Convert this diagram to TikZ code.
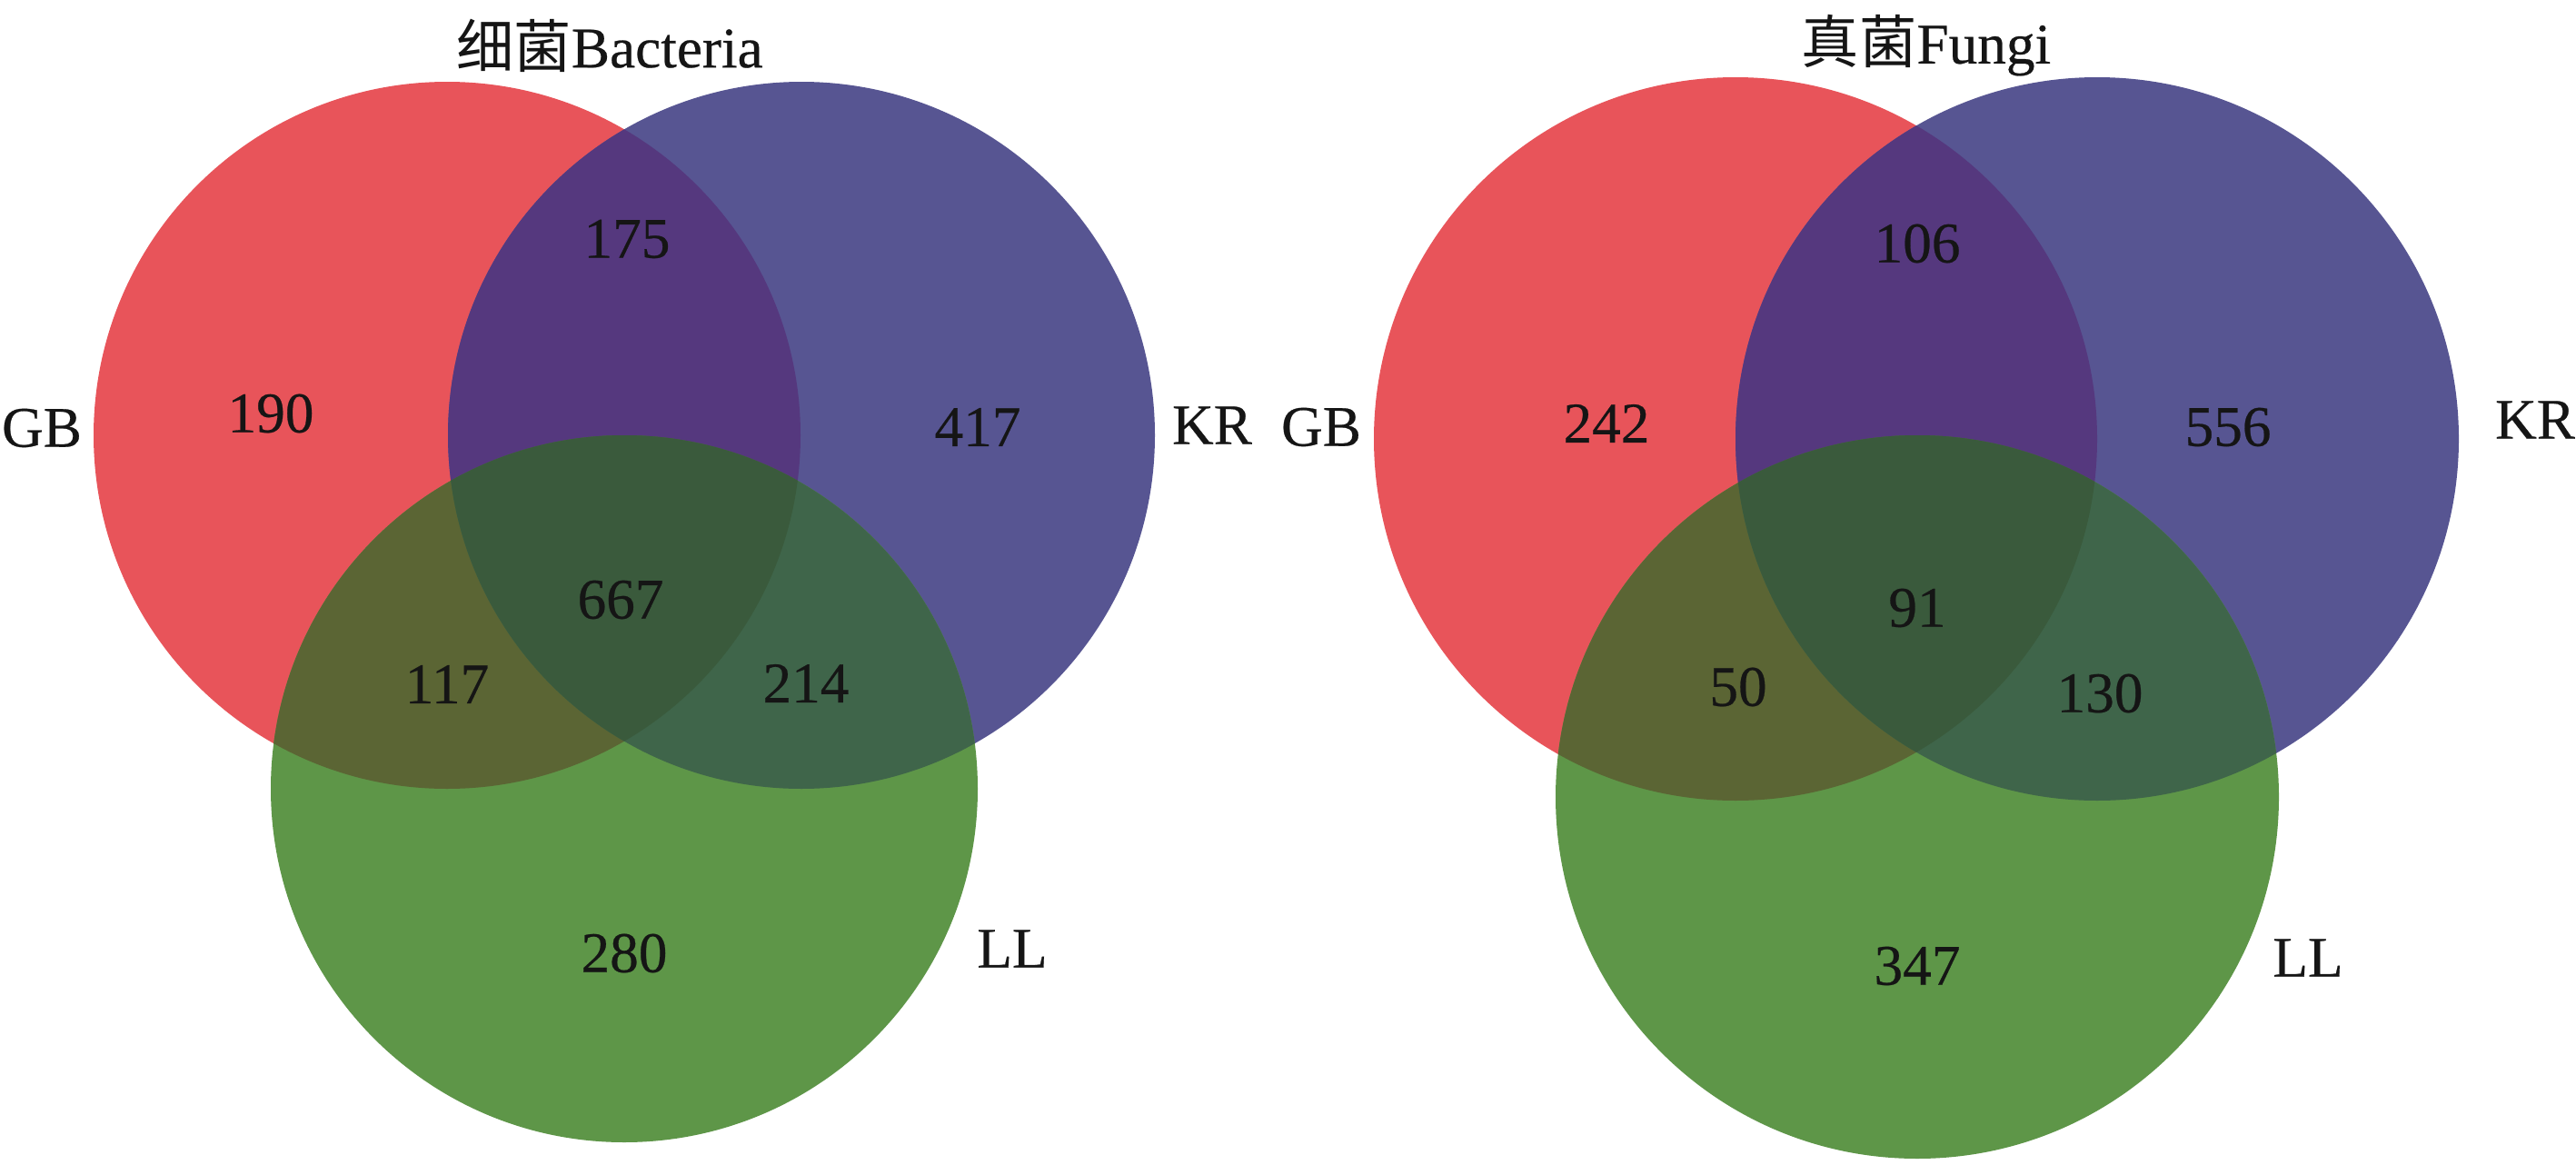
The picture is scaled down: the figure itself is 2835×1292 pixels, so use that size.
\documentclass[tikz,border=0pt]{standalone}
\usepackage{fontspec}
\setmainfont{Liberation Serif}
\newfontfamily\numfont{Liberation Serif}[FakeBold=0.4]
\newfontfamily\cjk{Noto Sans CJK SC}
\definecolor{cR}{HTML}{E8545A}
\definecolor{cB}{HTML}{575592}
\definecolor{cG}{HTML}{5E9648}
\definecolor{cRB}{HTML}{55387E}
\definecolor{cRG}{HTML}{5B6534}
\definecolor{cBG}{HTML}{3F654A}
\definecolor{cRBG}{HTML}{3A5A3C}
\definecolor{txt}{HTML}{151515}
\tikzset{
  lbl/.style={text=txt, font=\numfont\fontsize{18}{20}\selectfont, inner sep=0pt, anchor=center},
  ttl/.style={text=txt, font=\numfont\fontsize{18}{20}\selectfont, inner sep=0pt, anchor=center},
}
\newcommand{\venn}[7]{%
  \fill[cR] (#1,#2) circle[radius=#7mm];
  \fill[cB] (#3,#4) circle[radius=#7mm];
  \fill[cG] (#5,#6) circle[radius=#7mm];
  \begin{scope}\clip (#1,#2) circle[radius=#7mm];
    \fill[cRB] (#3,#4) circle[radius=#7mm];
  \end{scope}
  \begin{scope}\clip (#1,#2) circle[radius=#7mm];
    \fill[cRG] (#5,#6) circle[radius=#7mm];
  \end{scope}
  \begin{scope}\clip (#3,#4) circle[radius=#7mm];
    \fill[cBG] (#5,#6) circle[radius=#7mm];
  \end{scope}
  \begin{scope}\clip (#1,#2) circle[radius=#7mm];
    \clip (#3,#4) circle[radius=#7mm];
    \fill[cRBG] (#5,#6) circle[radius=#7mm];
  \end{scope}
}
\begin{document}
\begin{tikzpicture}[x=0.1mm,y=-0.1mm]
\useasboundingbox (0,0) rectangle (2835,1292);
\fill[white] (0,0) rectangle (2835,1292);

% Bacteria
\venn{492}{479}{882}{479}{687}{868}{38.9}
\node[ttl] (t1) at (671,50) {{\cjk 细菌}Bacteria};
\node[lbl] (b190) at (298,455) {190};
\node[lbl] (b175) at (690,263) {175};
\node[lbl] (b417) at (1076,470) {417};
\node[lbl] (b667) at (683,660) {667};
\node[lbl] (b117) at (492,753) {117};
\node[lbl] (b214) at (887,752) {214};
\node[lbl] (b280) at (687,1049) {280};
\node[lbl] (bGB) at (46,471) {GB};
\node[lbl] (bKR) at (1334,468) {KR};
\node[lbl] (bLL) at (1114,1044) {LL};

% Fungi
\venn{1910}{483}{2308}{483}{2110}{877}{39.8}
\node[ttl] (t2) at (2120,50) {{\cjk 真菌}Fungi};
\node[lbl] (f242) at (1768,466) {242};
\node[lbl] (f106) at (2110,268) {106};
\node[lbl] (f556) at (2452,470) {556};
\node[lbl] (f91) at (2110,669) {91};
\node[lbl] (f50) at (1913,756) {50};
\node[lbl] (f130) at (2311,763) {130};
\node[lbl] (f347) at (2110,1063) {347};
\node[lbl] (fGB) at (1454,470) {GB};
\node[lbl] (fKR) at (2790,462) {KR};
\node[lbl] (fLL) at (2540,1054) {LL};
\end{tikzpicture}
\end{document}
